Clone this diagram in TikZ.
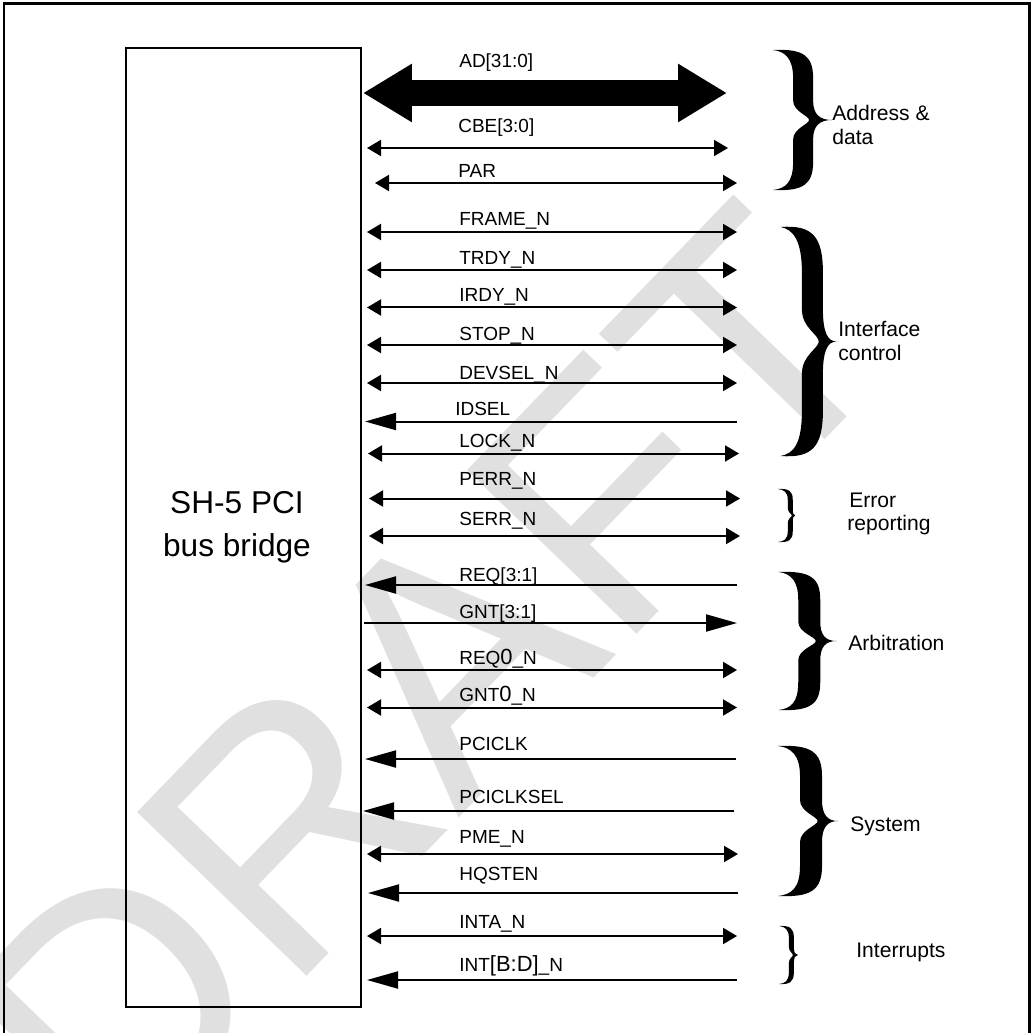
\documentclass[tikz,border=0pt]{standalone}
\usepackage{fontspec}
\setmainfont{Liberation Sans}
\usetikzlibrary{arrows.meta}
\newcommand{\bigch}{\fontsize{12.5}{12.5}\selectfont}
\newcommand{\curlybrace}[7]{% name, xl, y0, y1, W, T, frac
 \pgfmathsetmacro\cbH{#4-#3}
 \pgfmathsetmacro\cbW{#5}
 \pgfmathsetmacro\cbxc{#7*#5}
 \pgfmathsetmacro\cbxo{\cbxc+#6/2}
 \pgfmathsetmacro\cbxi{\cbxc-#6/2}
 \pgfmathsetmacro\cbxn{\cbxc+0.3*#6}
 \pgfmathsetmacro\cbxt{\cbxo+0.35*(#5-\cbxo)}
 \coordinate (#1) at (#2+#5,{(#3+#4)/2});
 \fill[shift={(#2,#3)}] (0,0) .. controls (0.75*\cbxo,-0.01*\cbH) and (\cbxo,0.04*\cbH) .. (\cbxo,0.2*\cbH) -- (\cbxo,0.36*\cbH) .. controls (\cbxo,0.46*\cbH) and (\cbxt,0.5*\cbH) .. (\cbW,0.5*\cbH) .. controls (\cbxt,0.5*\cbH) and (\cbxo,0.54*\cbH) .. (\cbxo,0.64*\cbH) -- (\cbxo,0.8*\cbH) .. controls (\cbxo,0.96*\cbH) and (0.75*\cbxo,1.01*\cbH) .. (0,\cbH) .. controls (0.6*\cbxi,0.99*\cbH) and (\cbxi,0.95*\cbH) .. (\cbxi,0.8*\cbH) -- (\cbxi,0.64*\cbH) .. controls (\cbxi,0.56*\cbH) and (\cbxn,0.53*\cbH) .. (\cbxn,0.5*\cbH) .. controls (\cbxn,0.47*\cbH) and (\cbxi,0.44*\cbH) .. (\cbxi,0.36*\cbH) -- (\cbxi,0.2*\cbH) .. controls (\cbxi,0.06*\cbH) and (0.6*\cbxi,0.01*\cbH) .. (0,0) -- cycle;
}
\begin{document}
\begin{tikzpicture}[x=0.02cm,y=-0.02cm,
  sig/.style={line width=0.04cm},
  dbl/.style={sig,{Triangle[length=0.28cm,width=0.32cm]}-{Triangle[length=0.28cm,width=0.32cm]}},
  inarr/.style={sig,{Triangle[length=0.62cm,width=0.34cm]}-},
  outarr/.style={sig,-{Triangle[length=0.62cm,width=0.34cm]}},
  lbl/.style={anchor=base west,inner sep=0pt,font=\fontsize{10.8}{12}\selectfont},
  grp/.style={anchor=base west,inner sep=0pt,font=\fontsize{12}{14}\selectfont}]
\useasboundingbox (0,0) rectangle (1033,1033);
% watermark
\node[rotate=46,anchor=base west,inner sep=0pt,text=black!12,font=\fontsize{195}{195}\selectfont] (draft) at (115,1175) {DRAFT};
% frame
\draw[line width=0.06cm] (4,1045) -- (4,4) -- (1029,4) -- (1029,1045);
% main block
\node[draw,line width=0.05cm,minimum width=4.7cm,minimum height=19.18cm,inner sep=0pt] (bridge) at (243.5,527.5) {};
\node[align=center,inner sep=0pt,font=\fontsize{18}{24.5}\selectfont] (bridgelbl) at (237,527) {SH-5 PCI\\bus bridge};
% AD bus
\coordinate (adL) at (363,93);
\coordinate (adR) at (727,93);
\draw[line width=0.52cm,{Triangle[length=0.98cm,width=1.1cm]}-{Triangle[length=0.98cm,width=1.1cm]}] (adL) -- (adR);
\node[lbl] (labad) at (459,68) {AD[31:0]};
% signals
\foreach \n/\y/\xl/\xr/\st in {cbe/148/367/728/dbl, par/183/375/737/dbl, frame/232/367/737/dbl, trdy/270/367/737/dbl, irdy/307.5/367/737/dbl, stop/345/367/737/dbl, devsel/383/367/737/dbl, idsel/421.5/365/737/inarr, lock/453.5/368/739/dbl, perr/498.5/369/740/dbl, serr/536/369/740/dbl, reqa/585/365/737/inarr, gnta/623/364/737/outarr, reqb/670/367/737/dbl, gntb/707.5/367/737/dbl, pciclk/759/365/736/inarr, pciclksel/811/363/734/inarr, pme/854/367/738/dbl, hqsten/893/368/738/inarr, inta/936/367/737/dbl, intbd/980/367/737/inarr}{
  \coordinate (\n L) at (\xl,\y);
  \coordinate (\n R) at (\xr,\y);
  \draw[style=\st] (\n L) -- (\n R);
}
\node[lbl] (labcbe) at (458,133) {CBE[3:0]};
\node[lbl] (labpar) at (458,178) {PAR};
\node[lbl] (labframe) at (459,226) {FRAME\_N};
\node[lbl] (labtrdy) at (459,265) {TRDY\_N};
\node[lbl] (labirdy) at (459,302) {IRDY\_N};
\node[lbl] (labstop) at (459,340) {STOP\_N};
\node[lbl] (labdevsel) at (459,379) {DEVSEL\_N};
\node[lbl] (labidsel) at (455,415) {IDSEL};
\node[lbl] (lablock) at (459,447) {LOCK\_N};
\node[lbl] (labperr) at (459,485) {PERR\_N};
\node[lbl] (labserr) at (459,525) {SERR\_N};
\node[lbl] (labreqa) at (459,581) {REQ[3:1]};
\node[lbl] (labgnta) at (459,618) {GNT[3:1]};
\node[lbl] (labreqb) at (459,664) {REQ{\bigch 0}\_N};
\node[lbl] (labgntb) at (459,701.5) {GNT{\bigch 0}\_N};
\node[lbl] (labpciclk) at (459,750) {PCICLK};
\node[lbl] (labpciclksel) at (459,803) {PCICLKSEL};
\node[lbl] (labpme) at (459,843) {PME\_N};
\node[lbl] (labhqsten) at (459,880) {HQSTEN};
\node[lbl] (labinta) at (459,928) {INTA\_N};
\node[lbl] (labintbd) at (459,971) {INT{\bigch [B:D]}\_N};
% braces
\curlybrace{braddr}{773}{50}{190}{59}{20}{0.51}
\curlybrace{brif}{780.5}{227}{456}{56}{21}{0.57}
\curlybrace{brerr}{778}{489}{542}{17}{5}{0.72}
\curlybrace{brarb}{778.5}{572}{710}{58}{22}{0.53}
\curlybrace{brsys}{778}{746}{896}{60}{22}{0.55}
\curlybrace{brint}{779}{926}{984}{19}{5}{0.65}
% group labels
\node[grp] (gaddr1) at (832,121) {Address \&};
\node[grp] (gaddr2) at (832,145) {data};
\node[grp] (gif1) at (838,337) {Interface};
\node[grp] (gif2) at (838,360) {control};
\node[grp] (gerr1) at (849,507) {Error};
\node[grp] (gerr2) at (847,530) {reporting};
\node[grp] (garb) at (848,650) {Arbitration};
\node[grp] (gsys) at (850,831) {System};
\node[grp] (gint) at (856,957) {Interrupts};
\end{tikzpicture}
\end{document}
